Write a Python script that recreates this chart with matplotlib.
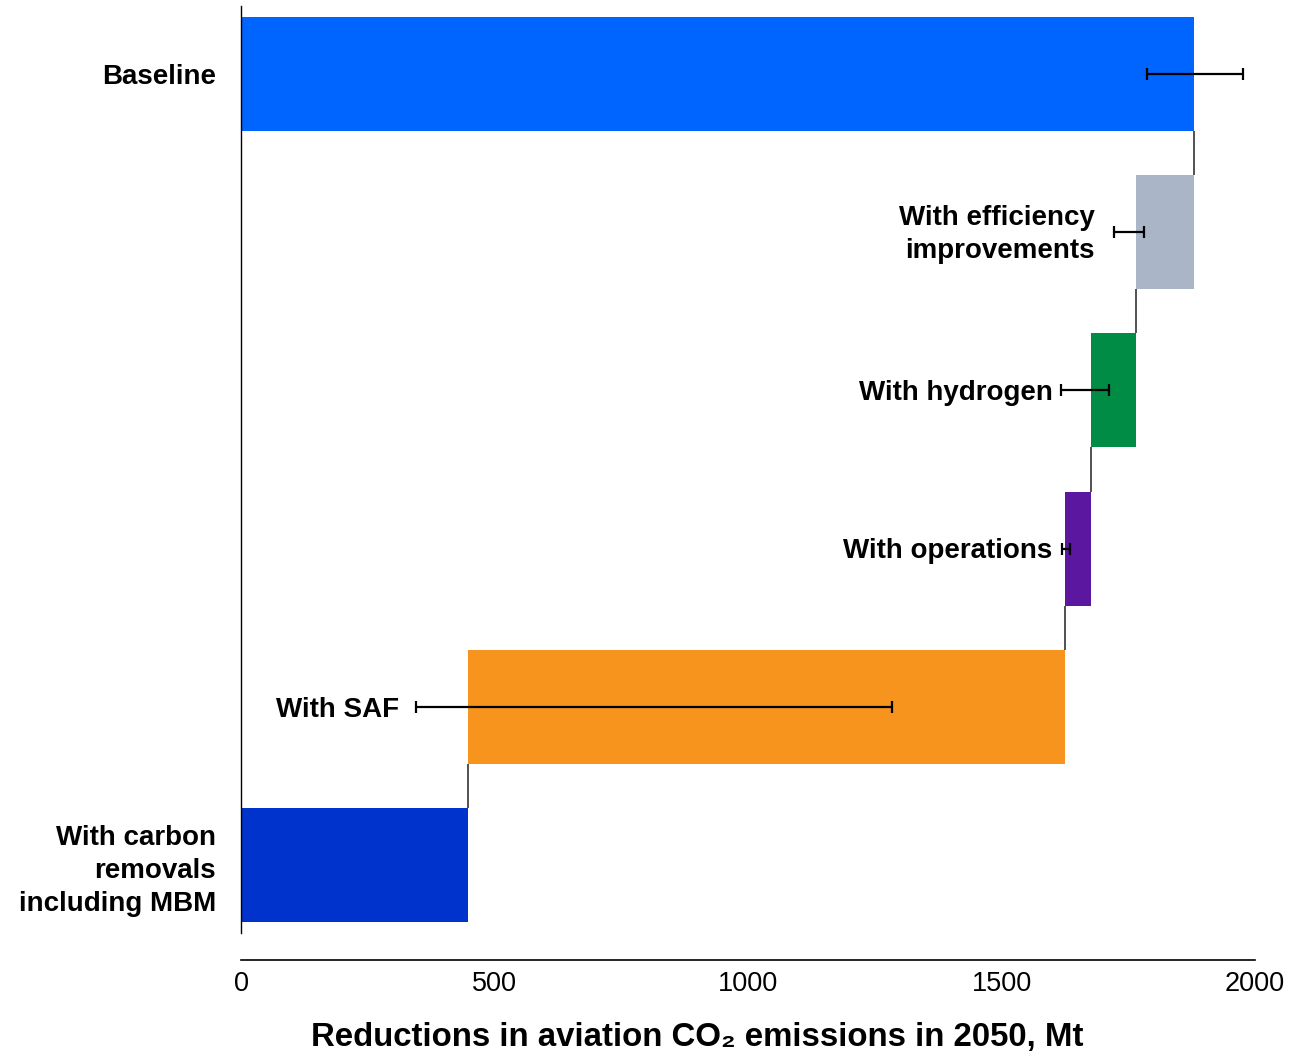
import numpy as np
import matplotlib.pyplot as plt

plt.rcParams['font.family'] = ['Liberation Sans', 'DejaVu Sans']

# Waterfall steps, Mt CO2 in 2050
labels = ["Baseline", "With efficiency\nimprovements", "With hydrogen",
          "With operations", "With SAF", "With carbon\nremovals\nincluding MBM"]
starts = [0, 1765, 1676, 1625, 448, 0]
ends = [1880, 1880, 1765, 1676, 1625, 448]
err_low = [1787, 1722, 1617, 1619, 345, None]
err_high = [1976, 1781, 1712, 1635, 1284, None]
colors = ["#0064FF", "#AAB6C8", "#008C45", "#5B17A0", "#F7941E", "#0033CC"]
xticks = [0, 500, 1000, 1500, 2000]

fig = plt.figure(figsize=(13.12, 10.53), dpi=100)
ax = fig.add_axes([0.1837, 0.114, 0.7729, 0.8803])

y = np.arange(len(labels))
h = 0.72
widths = [e - s for s, e in zip(starts, ends)]
ax.barh(y, widths, left=starts, height=h, color=colors, zorder=2)

# connector lines between steps
for i in range(len(labels) - 1):
    xc = ends[i] if i == 0 else starts[i]
    ax.vlines(xc, i + h / 2, i + 1 - h / 2, color="#222222", lw=1.1, zorder=1)

# error bars
for i in range(len(labels)):
    if err_low[i] is None:
        continue
    c = (err_low[i] + err_high[i]) / 2
    ax.errorbar(c, i, xerr=[[c - err_low[i]], [err_high[i] - c]], fmt="none",
                ecolor="black", elinewidth=1.6, capsize=4.5, capthick=1.6, zorder=3)

# in-chart labels for the middle steps (gap to the error bar, in points)
gaps = [0, 14, 6, 7, 12, 0]
for i in range(1, len(labels) - 1):
    ax.annotate(labels[i], xy=(err_low[i], i), xytext=(-gaps[i], -2),
                textcoords="offset points", ha="right", va="center",
                ma="right", fontsize=20, fontweight="bold", linespacing=1.35)

ax.set_ylim(5.43, -0.43)
ax.set_xlim(0, 2000)

ax.spines["top"].set_visible(False)
ax.spines["right"].set_visible(False)
ax.spines["left"].set_linewidth(1.0)
ax.spines["bottom"].set_position(("outward", 19.5))
ax.spines["bottom"].set_linewidth(1.2)

ax.set_yticks([0, 5])
ax.set_yticklabels([labels[0], labels[5]], fontsize=20, fontweight="bold",
                   ma="right", linespacing=1.35)
ax.tick_params(axis="y", length=0, pad=18)
ax.set_xticks(xticks)
ax.set_xticklabels([str(t) for t in xticks])
ax.tick_params(axis="x", length=0, pad=8, labelsize=19.5)

ax.set_xlabel("Reductions in aviation CO₂ emissions in 2050, Mt",
              fontsize=23.8, fontweight="bold")
ax.xaxis.set_label_coords(0.45, -0.096)

fig.savefig("out.png", dpi=100)
